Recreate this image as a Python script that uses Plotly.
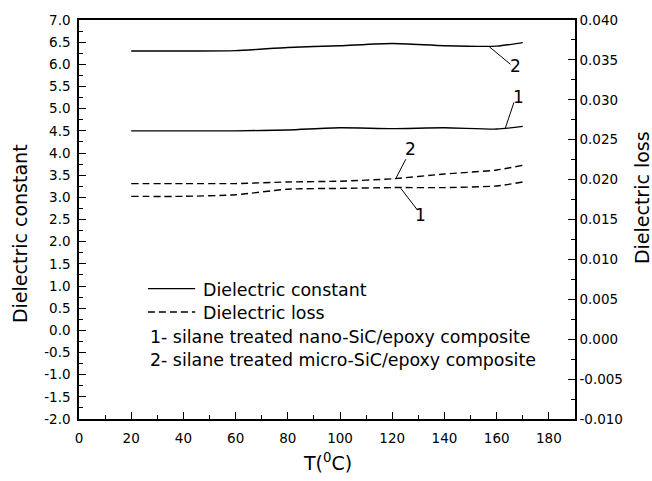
import plotly.graph_objects as go

# ---- data ----
T = [20, 40, 60, 80, 100, 120, 140, 160, 170]
const_micro = [6.30, 6.30, 6.31, 6.38, 6.42, 6.47, 6.42, 6.41, 6.49]   # curve 2, solid, left axis
const_nano = [4.50, 4.50, 4.50, 4.52, 4.57, 4.55, 4.57, 4.54, 4.60]    # curve 1, solid, left axis
loss_micro = [0.0195, 0.0195, 0.0195, 0.0197, 0.0198, 0.0201, 0.0207, 0.0212, 0.0218]  # curve 2, dashed, right axis
loss_nano = [0.0179, 0.0179, 0.0181, 0.0188, 0.0189, 0.0190, 0.0190, 0.0192, 0.0197]   # curve 1, dashed, right axis

x_ticks = [0, 20, 40, 60, 80, 100, 120, 140, 160, 180]
y_left_ticks = [-2.0, -1.5, -1.0, -0.5, 0.0, 0.5, 1.0, 1.5, 2.0, 2.5, 3.0,
                3.5, 4.0, 4.5, 5.0, 5.5, 6.0, 6.5, 7.0]
y_left_labels = ["-2.0", "-1.5", "-1.0", "-0.5", "0.0", "0.5", "1.0", "1.5", "2.0", "2.5", "3.0",
                 "3.5", "4.0", "4.5", "5.0", "5.5", "6.0", "6.5", "7.0"]
y_right_ticks = [-0.010, -0.005, 0.000, 0.005, 0.010, 0.015, 0.020, 0.025, 0.030, 0.035, 0.040]
y_right_labels = ["-0.010", "-0.005", "0.000", "0.005", "0.010", "0.015", "0.020",
                  "0.025", "0.030", "0.035", "0.040"]
legend_texts = ["Dielectric constant", "Dielectric loss",
                "1- silane treated nano-SiC/epoxy composite",
                "2- silane treated micro-SiC/epoxy composite"]

FONT = "DejaVu Sans"
BLACK = "#000000"

fig = go.Figure()
solid = dict(color=BLACK, width=1.4, shape="spline", smoothing=0.6)
dashed = dict(color=BLACK, width=1.4, shape="spline", smoothing=0.6, dash="7px,4px")

fig.add_trace(go.Scatter(x=T, y=const_micro, mode="lines", line=solid, showlegend=False))
fig.add_trace(go.Scatter(x=T, y=const_nano, mode="lines", line=solid, showlegend=False))
fig.add_trace(go.Scatter(x=T, y=loss_micro, mode="lines", line=dashed, yaxis="y2", showlegend=False))
fig.add_trace(go.Scatter(x=T, y=loss_nano, mode="lines", line=dashed, yaxis="y2", showlegend=False))

# ---- curve labels with leader lines (data coordinates, left axis) ----
leaders = [
    ((157.1, 6.40), (165.3, 6.00)),
    ((163.2, 4.54), (166.6, 5.14)),
    ((125.2, 3.86), (121.4, 3.43)),
    ((123.3, 3.20), (129.7, 2.71)),
]
labels = [("2", 167.3, 5.97), ("1", 168.5, 5.27), ("2", 127.1, 4.08), ("1", 130.9, 2.61)]
for (a, b) in leaders:
    fig.add_shape(type="line", x0=a[0], y0=a[1], x1=b[0], y1=b[1], xref="x", yref="y",
                  line=dict(color=BLACK, width=1))
for txt, xv, yv in labels:
    fig.add_annotation(x=xv, y=yv, xref="x", yref="y", text=txt, showarrow=False,
                       font=dict(family=FONT, size=17, color=BLACK))

# ---- hand-drawn legend inside the plot ----
fig.add_shape(type="line", x0=26.4, x1=44.5, y0=0.94, y1=0.94, xref="x", yref="y",
              line=dict(color=BLACK, width=1.4))
fig.add_shape(type="line", x0=26.4, x1=44.5, y0=0.415, y1=0.415, xref="x", yref="y",
              line=dict(color=BLACK, width=1.4, dash="7px,4px"))
legend_pos = [(46.6, 0.90), (46.6, 0.38), (26.4, -0.15), (26.4, -0.67)]
for txt, (xv, yv) in zip(legend_texts, legend_pos):
    fig.add_annotation(x=xv, y=yv, xref="x", yref="y", text=txt, showarrow=False,
                       xanchor="left", yanchor="middle",
                       font=dict(family=FONT, size=17.4, color=BLACK))

# ---- axis titles ----
fig.add_annotation(x=-0.119, y=0.466, xref="paper", yref="paper", text="Dielectric constant",
                   textangle=-90, showarrow=False, xanchor="center", yanchor="middle",
                   font=dict(family=FONT, size=19, color=BLACK))
fig.add_annotation(x=1.135, y=0.556, xref="paper", yref="paper", text="Dielectric loss",
                   textangle=-90, showarrow=False, xanchor="center", yanchor="middle",
                   font=dict(family=FONT, size=19, color=BLACK))
fig.add_annotation(x=0.502, y=-0.072, xref="paper", yref="paper", text="T(<sup>0</sup>C)",
                   showarrow=False, xanchor="center", yanchor="top",
                   font=dict(family=FONT, size=19, color=BLACK))

tickfont = dict(family=FONT, size=13.5, color=BLACK)
fig.update_layout(
    width=652, height=481,
    margin=dict(l=79, r=77, t=18, b=62, pad=0),
    paper_bgcolor="white", plot_bgcolor="white",
    showlegend=False,
    xaxis=dict(range=[0, 190], tickvals=x_ticks, ticks="inside", ticklen=7, tickwidth=1.3,
               tickcolor=BLACK, showline=True, linecolor=BLACK, linewidth=1.5, mirror=True,
               showgrid=False, zeroline=False, tickfont=tickfont, ticklabelstandoff=6,
               minor=dict(dtick=10, tick0=0, ticks="inside", ticklen=4, tickwidth=1.2, tickcolor=BLACK)),
    yaxis=dict(range=[-2, 7], tickvals=y_left_ticks, ticktext=y_left_labels, ticks="inside", ticklen=7,
               tickwidth=1.3, tickcolor=BLACK, showline=True, linecolor=BLACK, linewidth=1.5,
               showgrid=False, zeroline=False, tickfont=tickfont, ticklabelstandoff=4,
               minor=dict(dtick=0.25, tick0=0, ticks="inside", ticklen=4, tickwidth=1.2, tickcolor=BLACK)),
    yaxis2=dict(range=[-0.010, 0.040], tickvals=y_right_ticks, ticktext=y_right_labels, overlaying="y",
                side="right", ticks="inside", ticklen=7, tickwidth=1.3, tickcolor=BLACK,
                showline=True, linecolor=BLACK, linewidth=1.5, showgrid=False, zeroline=False,
                tickfont=tickfont, ticklabelstandoff=0,
                minor=dict(dtick=0.0025, tick0=0, ticks="inside", ticklen=4, tickwidth=1.2, tickcolor=BLACK)),
)

fig.write_html("out.html", config={"displayModeBar": False},
               post_script="document.body.style.margin='0px';document.body.style.padding='0px';")
